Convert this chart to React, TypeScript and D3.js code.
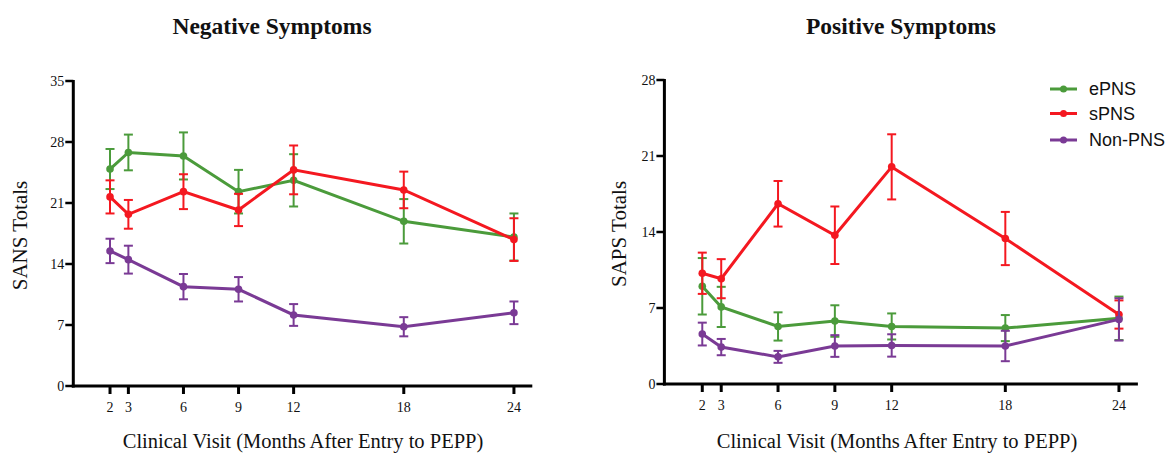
import React from "react";
import * as d3 from "d3";

const months = [2, 3, 6, 9, 12, 18, 24];
const seriesNames = ["ePNS", "sPNS", "Non-PNS"];
const seriesColors = ["#4b9b3b", "#f41820", "#7a3a95"];

// Negative symptoms (SANS totals): mean and error half-width
const sansEPNS = [24.9, 26.8, 26.4, 22.3, 23.6, 18.9, 17.1];
const sansEPNSErr = [2.3, 2.05, 2.7, 2.5, 3.0, 2.55, 2.7];
const sansSPNS = [21.7, 19.7, 22.3, 20.2, 24.8, 22.5, 16.8];
const sansSPNSErr = [1.9, 1.65, 2.0, 1.85, 2.8, 2.1, 2.45];
const sansNon = [15.5, 14.5, 11.4, 11.1, 8.15, 6.8, 8.4];
const sansNonErr = [1.4, 1.6, 1.45, 1.4, 1.25, 1.1, 1.3];

// Positive symptoms (SAPS totals)
const sapsEPNS = [9.0, 7.1, 5.3, 5.8, 5.3, 5.15, 6.05];
const sapsEPNSErr = [2.6, 1.85, 1.3, 1.45, 1.2, 1.2, 2.0];
const sapsSPNS = [10.2, 9.7, 16.6, 13.7, 20.0, 13.4, 6.4];
const sapsSPNSErr = [1.9, 1.8, 2.1, 2.65, 3.0, 2.45, 1.3];
const sapsNon = [4.6, 3.4, 2.5, 3.5, 3.55, 3.5, 5.95];
const sapsNonErr = [1.05, 0.75, 0.55, 1.0, 1.03, 1.4, 1.95];

const sansTicks = [0, 7, 14, 21, 28, 35];
const sapsTicks = [0, 7, 14, 21, 28];

const serif = "'Liberation Serif', 'Times New Roman', serif";
const sans = "'Liberation Sans', Arial, sans-serif";

type Series = { name: string; color: string; values: number[]; errs: number[] };

function Panel(props: {
  x0: number; x1: number; yTop: number; yBottom: number; yMax: number;
  ticks: number[]; title: string; titleX: number; yLabel: string; yLabelX: number;
  xLabelX: number; series: Series[];
}) {
  const { x0, x1, yTop, yBottom, yMax, ticks, title, titleX, yLabel, yLabelX, xLabelX, series } = props;
  const x = d3.scaleLinear().domain([0, 25]).range([x0, x1]);
  const y = d3.scaleLinear().domain([0, yMax]).range([yBottom, yTop]);
  const line = d3.line<number>().x((_, i) => x(months[i])).y((v) => y(v));
  const yMid = (yTop + yBottom) / 2;
  return (
    <g>
      <text x={titleX} y={34} textAnchor="middle" fontFamily={serif} fontWeight="bold" fontSize={23.5} fill="#111">{title}</text>
      <text transform={`translate(${yLabelX},${yMid + 2}) rotate(-90)`} textAnchor="middle" fontFamily={serif} fontSize={21} fill="#111">{yLabel}</text>
      <text x={xLabelX} y={448} textAnchor="middle" fontFamily={serif} fontSize={20.5} fill="#111">Clinical Visit (Months After Entry to PEPP)</text>
      {/* y axis */}
      <line x1={x(0)} x2={x(0)} y1={y(yMax) - 1} y2={yBottom + 1.5} stroke="#000" strokeWidth={3} />
      {ticks.map((t) => (
        <g key={t}>
          <line x1={x(0) - 8} x2={x(0)} y1={y(t)} y2={y(t)} stroke="#000" strokeWidth={2.5} />
          <text x={x(0) - 9} y={y(t) + 4.5} textAnchor="end" fontFamily={serif} fontSize={14} fill="#111">{t}</text>
        </g>
      ))}
      {/* x axis */}
      <line x1={x(0) - 1.5} x2={x(25)} y1={yBottom} y2={yBottom} stroke="#000" strokeWidth={3} />
      {months.map((m) => (
        <g key={m}>
          <line x1={x(m)} x2={x(m)} y1={yBottom} y2={yBottom + 8} stroke="#000" strokeWidth={3} />
          <text x={x(m)} y={yBottom + 26} textAnchor="middle" fontFamily={serif} fontSize={14} fill="#111">{m}</text>
        </g>
      ))}
      {series.map((s) => (
        <g key={s.name}>
          {s.values.map((v, i) => {
            const cx = x(months[i]);
            const top = y(v + s.errs[i]);
            const bot = y(v - s.errs[i]);
            return (
              <g key={i} stroke={s.color} strokeWidth={2}>
                <line x1={cx} x2={cx} y1={top} y2={bot} />
                <line x1={cx - 4.5} x2={cx + 4.5} y1={top} y2={top} />
                <line x1={cx - 4.5} x2={cx + 4.5} y1={bot} y2={bot} />
              </g>
            );
          })}
          <path d={line(s.values) || ""} fill="none" stroke={s.color} strokeWidth={3} />
          {s.values.map((v, i) => (
            <circle key={i} cx={x(months[i])} cy={y(v)} r={3.8} fill={s.color} />
          ))}
        </g>
      ))}
    </g>
  );
}

export default function App() {
  const sansSeries: Series[] = [
    { name: seriesNames[0], color: seriesColors[0], values: sansEPNS, errs: sansEPNSErr },
    { name: seriesNames[1], color: seriesColors[1], values: sansSPNS, errs: sansSPNSErr },
    { name: seriesNames[2], color: seriesColors[2], values: sansNon, errs: sansNonErr },
  ];
  const sapsSeries: Series[] = [
    { name: seriesNames[0], color: seriesColors[0], values: sapsEPNS, errs: sapsEPNSErr },
    { name: seriesNames[1], color: seriesColors[1], values: sapsSPNS, errs: sapsSPNSErr },
    { name: seriesNames[2], color: seriesColors[2], values: sapsNon, errs: sapsNonErr },
  ];
  const legendY = [89, 113.5, 140];
  return (
    <svg width={1172} height={456} style={{ position: "absolute", left: 0, top: 0, background: "#fff" }}>
      <Panel x0={73.3} x1={532.3} yTop={81} yBottom={386} yMax={35} ticks={sansTicks}
        title="Negative Symptoms" titleX={272} yLabel="SANS Totals" yLabelX={27} xLabelX={303} series={sansSeries} />
      <Panel x0={664.4} x1={1137.9} yTop={80} yBottom={384} yMax={28} ticks={sapsTicks}
        title="Positive Symptoms" titleX={901} yLabel="SAPS Totals" yLabelX={626} xLabelX={897} series={sapsSeries} />
      {seriesNames.map((n, i) => (
        <g key={n}>
          <line x1={1050} x2={1077} y1={legendY[i]} y2={legendY[i]} stroke={seriesColors[i]} strokeWidth={3} />
          <circle cx={1063.5} cy={legendY[i]} r={3.5} fill={seriesColors[i]} />
          <text x={1089} y={legendY[i] + 6} fontFamily={sans} fontSize={18} fill="#111">{n}</text>
        </g>
      ))}
    </svg>
  );
}
